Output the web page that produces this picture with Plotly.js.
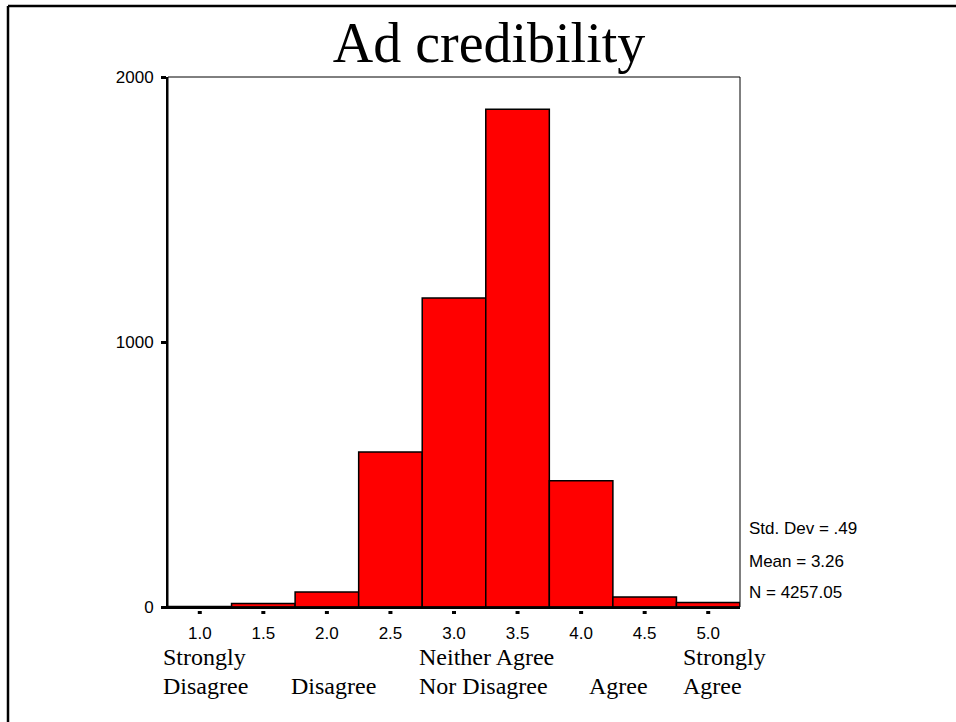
<!DOCTYPE html>
<html>
<head>
<meta charset="utf-8">
<script src="https://cdn.plot.ly/plotly-3.0.1.min.js"></script>
<style>
  html, body { margin: 0; padding: 0; background: #ffffff; }
  #chart { width: 956px; height: 722px; }
</style>
</head>
<body>
<div id="chart"></div>
<script>
// ---- data ----
const chartTitle = "Ad credibility";
const binCenters = [1.0, 1.5, 2.0, 2.5, 3.0, 3.5, 4.0, 4.5, 5.0];
const binCounts  = [2, 13, 57, 585, 1166, 1878, 476, 38, 17];
const xTickVals  = [1.0, 1.5, 2.0, 2.5, 3.0, 3.5, 4.0, 4.5, 5.0];
const xTickText  = ["1.0", "1.5", "2.0", "2.5", "3.0", "3.5", "4.0", "4.5", "5.0"];
const yTickVals  = [0, 1000, 2000];
const yTickText  = ["0", "1000", "2000"];
const scalePoints = [1, 2, 3, 4, 5];
const scaleLine1  = ["Strongly", "", "Neither Agree", "", "Strongly"];
const scaleLine2  = ["Disagree", "Disagree", "Nor Disagree", "Agree", "Agree"];
const statsLines  = ["Std. Dev = .49", "Mean = 3.26", "N = 4257.05"];

// ---- layout constants (pixels) ----
const W = 956, H = 722;
const M = {l: 168, r: 216, t: 77, b: 115};
const plotW = W - M.l - M.r, plotH = H - M.t - M.b;
const xp = px => (px - M.l) / plotW;           // page px -> paper x
const yp = py => (H - M.b - py) / plotH;        // page py -> paper y

const sansFont = {family: "Arial, 'Liberation Sans', sans-serif", size: 17, color: "#000"};
const serifFont = {family: "'Times New Roman', 'Liberation Serif', serif", size: 24, color: "#000"};

// pixel offsets for category labels (left edge relative to the scale point)
const scaleShift = [-39, -38, -37, 6, -27];
const statsShift = [79, 46, 15];

const shapes = [];
// plot frame (thin)
shapes.push({type: "rect", xref: "paper", yref: "paper", x0: 0, x1: 1, y0: 0, y1: 1,
  line: {color: "#000", width: 1}, layer: "above"});
// outer page frame (top + left)
shapes.push({type: "line", xref: "paper", yref: "paper", x0: xp(8), x1: xp(W + 5), y0: yp(6), y1: yp(6),
  line: {color: "#000", width: 2.5}});
shapes.push({type: "line", xref: "paper", yref: "paper", x0: xp(8), x1: xp(8), y0: yp(6), y1: yp(H + 5),
  line: {color: "#000", width: 2.5}});
// detached x tick marks (small squares just below the axis)
xTickVals.forEach(v => {
  shapes.push({type: "rect", xref: "x", yref: "paper", xsizemode: "pixel", ysizemode: "pixel",
    xanchor: v, yanchor: 0, x0: -2, x1: 2, y0: -4, y1: -7,
    fillcolor: "#000", line: {width: 0}, layer: "above"});
});

const annotations = [];
scalePoints.forEach((v, i) => {
  if (scaleLine1[i]) annotations.push({xref: "x", yref: "paper", x: v, y: 0, xanchor: "left", yanchor: "middle",
    xshift: scaleShift[i], yshift: -(657 - (H - M.b)), text: scaleLine1[i], showarrow: false, font: serifFont});
  annotations.push({xref: "x", yref: "paper", x: v, y: 0, xanchor: "left", yanchor: "middle",
    xshift: scaleShift[i], yshift: -(686 - (H - M.b)), text: scaleLine2[i], showarrow: false, font: serifFont});
});
statsLines.forEach((s, i) => {
  annotations.push({xref: "paper", yref: "paper", x: 1, y: 0, xanchor: "left", yanchor: "middle",
    xshift: 7, yshift: statsShift[i], text: s, showarrow: false, font: sansFont});
});

const trace = {
  type: "bar",
  x: binCenters,
  y: binCounts,
  width: 0.5,
  marker: {color: "#ff0000", line: {color: "#000", width: 1.5}},
  hoverinfo: "x+y"
};

const layout = {
  width: W, height: H,
  margin: M,
  paper_bgcolor: "#fff", plot_bgcolor: "#fff",
  showlegend: false,
  bargap: 0,
  title: {
    text: chartTitle,
    font: {family: "'Times New Roman', 'Liberation Serif', serif", size: 56, color: "#000"},
    xref: "container", yref: "container",
    x: 489 / W, xanchor: "center",
    y: 1 - 42 / H, yanchor: "middle"
  },
  xaxis: {
    range: [0.75, 5.25],
    tickvals: xTickVals, ticktext: xTickText,
    ticks: "", showgrid: false, zeroline: false,
    showline: true, linecolor: "#000", linewidth: 2,
    tickfont: sansFont, ticklabelstandoff: 10,
    fixedrange: true
  },
  yaxis: {
    range: [0, 2000],
    tickvals: yTickVals, ticktext: yTickText,
    ticks: "outside", ticklen: 5, tickwidth: 3, tickcolor: "#000",
    showgrid: false, zeroline: false,
    showline: true, linecolor: "#000", linewidth: 2,
    tickfont: sansFont, ticklabelstandoff: 4,
    fixedrange: true
  },
  shapes: shapes,
  annotations: annotations
};

Plotly.newPlot("chart", [trace], layout, {displayModeBar: false, staticPlot: true});
</script>
</body>
</html>
